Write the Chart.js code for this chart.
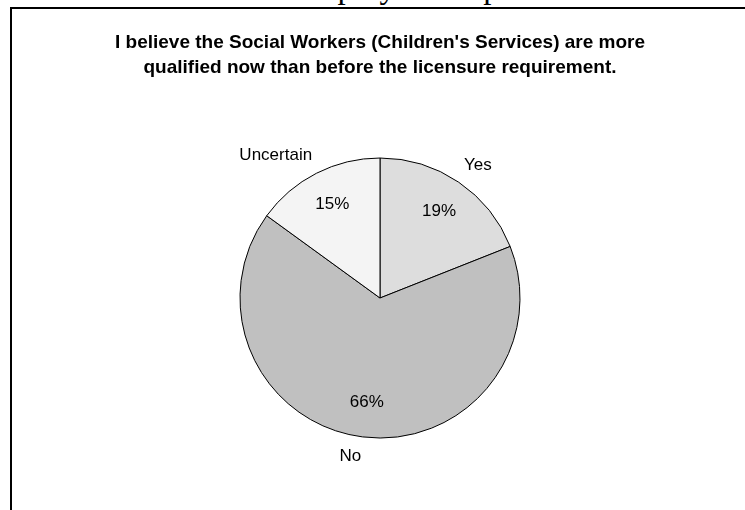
<!DOCTYPE html>
<html>
<head>
<meta charset="utf-8">
<title>Employee Responses</title>
<script src="https://cdn.jsdelivr.net/npm/chart.js@4"></script>
<style>
  html, body { margin: 0; padding: 0; background: #fff; }
  body { width: 745px; height: 510px; position: relative; overflow: hidden; }
  #heading {
    position: absolute; right: 172px; top: -29px;
    font: 33px "Liberation Serif", "Times New Roman", serif;
    line-height: 33px; white-space: nowrap; color: #000;
  }
  #frame {
    position: absolute; left: 10px; top: 7px; width: 800px; height: 600px;
    border-left: 2px solid #000; border-top: 2px solid #000;
  }
  #chartWrap { position: absolute; left: 0; top: 0; width: 745px; height: 510px; }
</style>
</head>
<body>
<div id="heading">Current DCFS and DSS Employee Responses</div>
<div id="frame"></div>
<div id="chartWrap"><canvas id="pie" width="745" height="510"></canvas></div>
<script>
// Survey answers, percent of respondents
const categories = ['Yes', 'No', 'Uncertain'];
const shares = [19, 66, 15];
const sliceColors = ['#dddddd', '#c0c0c0', '#f4f4f4'];
const titleLines = [
  "I believe the Social Workers (Children's Services) are more",
  'qualified now than before the licensure requirement.'
];

const labelFont = '17px Arial, "Liberation Sans", sans-serif';

// percent inside each slice, category name just outside the rim
const sliceLabels = {
  id: 'sliceLabels',
  afterDatasetsDraw(chart){
    const ctx = chart.ctx;
    const meta = chart.getDatasetMeta(0);
    ctx.save();
    ctx.font = labelFont;
    ctx.fillStyle = '#000';
    ctx.textAlign = 'center';
    ctx.textBaseline = 'middle';
    meta.data.forEach((arc, i) => {
      const p = arc.getProps(['x', 'y', 'startAngle', 'endAngle', 'outerRadius'], true);
      const mid = (p.startAngle + p.endAngle) / 2;
      const cos = Math.cos(mid), sin = Math.sin(mid);

      const rIn = p.outerRadius * 0.75;
      ctx.fillText(shares[i] + '%', p.x + rIn * cos, p.y + rIn * sin);

      // anchor the box corner nearest the pie at the rim
      const name = categories[i];
      const w = ctx.measureText(name).width;
      const h = 19;
      const rOut = p.outerRadius + 9.5;
      const ax = p.x + rOut * cos, ay = p.y + rOut * sin;
      const cx = ax + (cos >= 0 ? w / 2 : -w / 2);
      const cy = ay + (sin >= 0 ? h / 2 : -h / 2);
      ctx.fillText(name, cx, cy);
    });
    ctx.restore();
  }
};

new Chart(document.getElementById('pie').getContext('2d'), {
  type: 'pie',
  data: {
    labels: categories,
    datasets: [{
      data: shares,
      backgroundColor: sliceColors,
      borderColor: '#000',
      borderWidth: 1,
      radius: 140
    }]
  },
  options: {
    responsive: false,
    animation: false,
    layout: { padding: { left: 15, right: 0, top: 0, bottom: 0 } },
    plugins: {
      legend: { display: false },
      tooltip: { enabled: false },
      title: {
        display: true,
        text: titleLines,
        color: '#000',
        font: { family: 'Arial, "Liberation Sans", sans-serif', size: 19, weight: 'bold', lineHeight: 25 / 19 },
        padding: { top: 30, bottom: 6 }
      }
    }
  },
  plugins: [sliceLabels]
});
</script>
</body>
</html>
